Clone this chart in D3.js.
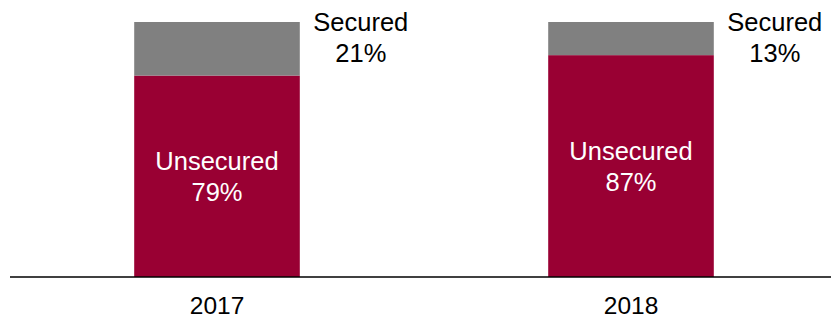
<!DOCTYPE html>
<html>
<head>
<meta charset="utf-8">
<script src="https://cdn.jsdelivr.net/npm/d3@7"></script>
<style>
  html, body { margin: 0; padding: 0; background: #fff; }
  svg { display: block; font-family: "Liberation Sans", Arial, sans-serif; }
</style>
</head>
<body>
<svg id="chart" width="831" height="320"></svg>
<script>
const years = ["2017", "2018"];
const unsecured = [79, 87];
const secured = [21, 13];
const seriesNames = ["Unsecured", "Secured"];

const W = 831, H = 320;
const svg = d3.select("#chart");

const x = d3.scaleBand().domain(years).range([10, 838]).paddingInner(0.6).paddingOuter(0.3);
const y = d3.scaleLinear().domain([0, 100]).range([277, 22]);

const colors = { Unsecured: "#990033", Secured: "#808080" };

const rows = years.map((yr, i) => ({ year: yr, Unsecured: unsecured[i], Secured: secured[i] }));
const stack = d3.stack().keys(seriesNames)(rows);

svg.append("g").selectAll("g")
  .data(stack).join("g")
  .attr("fill", d => colors[d.key])
  .selectAll("rect")
  .data(d => d).join("rect")
  .attr("x", d => x(d.data.year))
  .attr("width", x.bandwidth())
  .attr("y", d => y(d[1]))
  .attr("height", d => y(d[0]) - y(d[1]));

// Unsecured labels inside bars
const fs = 25.5, lh = 31;
rows.forEach((r, i) => {
  const cx = x(r.year) + x.bandwidth() / 2;
  const cy = (y(0) + y(r.Unsecured)) / 2;
  const t = svg.append("text")
    .attr("fill", "#fff").attr("font-size", fs).attr("text-anchor", "middle");
  t.append("tspan").attr("x", cx).attr("y", cy - 6).text("Unsecured");
  t.append("tspan").attr("x", cx).attr("y", cy - 6 + lh).text(r.Unsecured + "%");

  const sx = x(r.year) + x.bandwidth() + 61;
  const sy = y(100) + 9;
  const s = svg.append("text")
    .attr("fill", "#000").attr("font-size", fs).attr("text-anchor", "middle");
  s.append("tspan").attr("x", sx).attr("y", sy).text("Secured");
  s.append("tspan").attr("x", sx).attr("y", sy + lh).text(r.Secured + "%");
});

// Axis
const axis = d3.axisBottom(x).tickSize(0).tickPadding(0);
const g = svg.append("g").attr("transform", "translate(0,277)").call(axis);
g.select(".domain").remove();
g.selectAll(".tick text")
  .attr("font-size", 24.5).attr("fill", "#000")
  .attr("font-family", "'Liberation Sans', Arial, sans-serif")
  .attr("dy", null).attr("y", 37);
svg.append("line")
  .attr("x1", 10).attr("x2", 831).attr("y1", 277).attr("y2", 277)
  .attr("stroke", "#000").attr("stroke-width", 1.5);
</script>
</body>
</html>
